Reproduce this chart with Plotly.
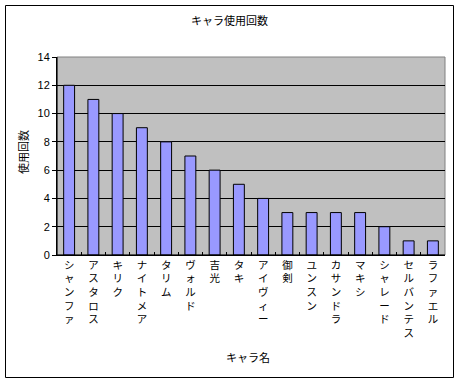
import plotly.graph_objects as go

categories = ["シャンファ", "アスタロス", "キリク", "ナイトメア", "タリム", "ヴォルド", "吉光", "タキ",
              "アイヴィー", "御剣", "ユンスン", "カサンドラ", "マキシ", "シャレード", "セルバンテス", "ラファエル"]
values = [12, 11, 10, 9, 8, 7, 6, 5, 4, 3, 3, 3, 3, 2, 1, 1]
y_ticks = [0, 2, 4, 6, 8, 10, 12, 14]

FONT = "Noto Sans CJK JP"
W, H = 459, 382
L, R, T, B = 57, 445, 57, 255

tick_text = ["<br>".join(list(c)) for c in categories]

fig = go.Figure(go.Bar(
    x=categories, y=values,
    marker=dict(color="#9999FF", line=dict(color="black", width=1)),
    width=0.45,
))

pw, ph = R - L, B - T
def px(x): return (x - L) / pw
def py(y): return (B - y) / ph

fig.update_layout(
    width=W, height=H,
    margin=dict(l=L, r=W - R, t=T, b=H - B),
    paper_bgcolor="white", plot_bgcolor="#C0C0C0",
    font=dict(family=FONT, size=10.5, color="black"),
    showlegend=False,
    xaxis=dict(
        tickmode="array", tickvals=categories, ticktext=tick_text,
        ticks="inside", tickson="boundaries", ticklen=3, tickcolor="black",
        showline=True, linecolor="black", linewidth=1, mirror=False,
        showgrid=False, tickangle=0, tickfont=dict(size=10.5),
    ),
    yaxis=dict(
        range=[0, 14], tickvals=y_ticks, ticks="outside", ticklen=4, tickcolor="black",
        showline=True, linecolor="black", linewidth=1,
        showgrid=True, gridcolor="black", gridwidth=1, zeroline=False,
        tickfont=dict(family="Liberation Sans", size=11),
    ),
    shapes=[
        dict(type="rect", xref="paper", yref="paper", x0=px(L), x1=px(R), y0=py(B), y1=py(T),
             line=dict(color="#808080", width=1), fillcolor="rgba(0,0,0,0)", layer="below"),
        dict(type="line", xref="paper", yref="paper", x0=0, x1=0, y0=0, y1=1,
             line=dict(color="black", width=1)),
        dict(type="line", xref="paper", yref="paper", x0=0, x1=1, y0=0, y1=0,
             line=dict(color="black", width=1)),
        dict(type="rect", xref="paper", yref="paper", x0=px(5.5), x1=px(453.5), y0=py(377.5), y1=py(5.5),
             line=dict(color="black", width=1), fillcolor="rgba(0,0,0,0)"),
    ],
    annotations=[
        dict(text="キャラ使用回数", xref="paper", yref="paper", x=px(229.5), y=py(20),
             showarrow=False, font=dict(size=11), xanchor="center", yanchor="middle"),
        dict(text="キャラ名", xref="paper", yref="paper", x=px(248), y=py(357),
             showarrow=False, font=dict(size=11), xanchor="center", yanchor="middle"),
        dict(text="使用回数", xref="paper", yref="paper", x=px(23), y=py(152),
             showarrow=False, font=dict(size=11), textangle=-90, xanchor="center", yanchor="middle"),
    ],
)

fig.write_html("out.html")
